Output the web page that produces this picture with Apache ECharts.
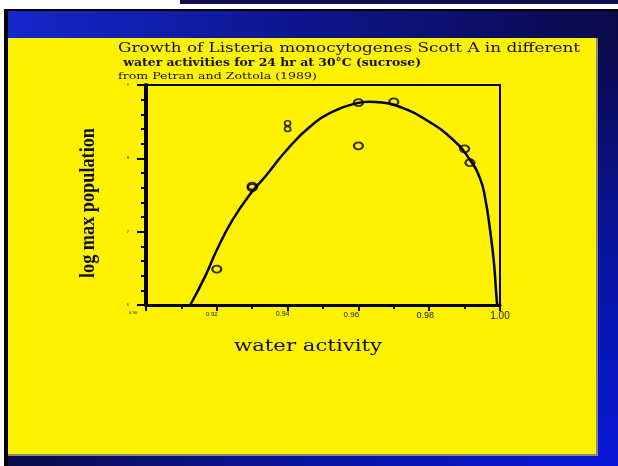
<!DOCTYPE html>
<html><head><meta charset="utf-8">
<script src="https://cdn.jsdelivr.net/npm/echarts@6/dist/echarts.min.js"></script>
<style>html,body{margin:0;padding:0;background:#fff}#c{width:618px;height:466px}</style>
</head><body><div id="c"></div>
<script>
// ---- data ----
const titleLine1 = 'Growth of Listeria monocytogenes Scott A in different';
const titleLine2 = ' water activities for 24 hr at 30°C (sucrose)';
const titleLine3 = 'from Petran and Zottola (1989)';
const xAxisTitle = 'water activity';
const yAxisTitle = 'log max population';
const xTickLabels = ['0.90', '0.92', '0.94', '0.96', '0.98', '1.00'];
const yTickLabels = ['6', '7', '8', '9'];

const pointsAw  = [0.92, 0.93, 0.93, 0.96, 0.96, 0.97, 0.99, 0.9915];
const pointsLog = [6.49, 7.60, 7.62, 8.76, 8.17, 8.77, 8.13, 7.94];
const smallAw   = [0.94, 0.94];
const smallLog  = [8.48, 8.40];

const curveAw  = [0.9125, 0.9167, 0.9200, 0.9242, 0.9294, 0.9340, 0.9397, 0.9463, 0.9529, 0.9595, 0.9630, 0.9666, 0.9718, 0.9793, 0.9868, 0.9915, 0.9944, 0.9958, 0.9972, 0.9983, 0.9991, 0.9993];
const curveLog = [6.00, 6.39, 6.75, 7.14, 7.51, 7.77, 8.11, 8.43, 8.64, 8.75, 8.77, 8.76, 8.70, 8.52, 8.25, 7.98, 7.72, 7.46, 7.02, 6.57, 6.05, 6.00];

// ---- helpers ----
const ctx = document.createElement('canvas').getContext('2d');
function measure(text, font) { ctx.font = font; return ctx.measureText(text).width; }
function fitText(text, font, x, y, width, extra) {
  const w = measure(text, font);
  return Object.assign({
    type: 'text', x: x, y: y, scaleX: width / w, z: 20,
    style: { text: text, font: font, fill: '#111', align: 'left', verticalAlign: 'middle' }
  }, extra || {});
}

const YELLOW = '#fff200';
const graphics = [
  { type: 'rect', z: -20, shape: { x: 180, y: 0, width: 438, height: 4 }, style: { fill: '#0c0c55' } },
  { type: 'rect', z: -20, shape: { x: 4, y: 9, width: 614, height: 457 }, style: { fill: '#000' } },
  { type: 'rect', z: -19, shape: { x: 8, y: 11, width: 610, height: 28 },
    style: { fill: new echarts.graphic.LinearGradient(0, 0, 1, 0, [{ offset: 0, color: '#1428cc' }, { offset: 0.45, color: '#0e1690' }, { offset: 1, color: '#0a0a4a' }]) } },
  { type: 'rect', z: -19, shape: { x: 596, y: 38, width: 22, height: 428 },
    style: { fill: new echarts.graphic.LinearGradient(0, 0, 0, 1, [{ offset: 0, color: '#0a0a4a' }, { offset: 0.5, color: '#0a14a0' }, { offset: 1, color: '#0818d8' }]) } },
  { type: 'rect', z: -19, shape: { x: 8, y: 454, width: 590, height: 12 },
    style: { fill: new echarts.graphic.LinearGradient(0, 0, 1, 0, [{ offset: 0, color: '#0c0c48' }, { offset: 0.5, color: '#0a14a0' }, { offset: 1, color: '#0818d8' }]) } },
  { type: 'rect', z: -18, shape: { x: 8, y: 38, width: 590, height: 418 }, style: { fill: '#8a8a70' } },
  { type: 'rect', z: -17, shape: { x: 8, y: 38, width: 588, height: 416 }, style: { fill: YELLOW } },
  fitText(titleLine1, '13px "DejaVu Serif"', 118, 49, 462),
  fitText(titleLine2, 'bold 11px "DejaVu Serif"', 119, 63, 302),
  fitText(titleLine3, '10px "DejaVu Serif"', 118, 76, 199),
  fitText(xAxisTitle, '17px "DejaVu Serif"', 234, 347, 148),
  Object.assign(fitText(yAxisTitle, 'bold 22px "Liberation Serif"', 88, 203, 150), {
    rotation: Math.PI / 2,
    style: { text: yAxisTitle, font: 'bold 22px "Liberation Serif"', fill: '#111', align: 'center', verticalAlign: 'middle' }
  })
];

const xRich = {};
const xSizes = [4, 6, 7, 8, 9, 10];
const xShift = [26, 10, 10, 14, 8, 0];
xSizes.forEach((s, i) => {
  xRich['s' + i] = { fontSize: s, fontFamily: 'Liberation Sans', color: '#222', padding: [0, xShift[i], 0, 0] };
});

const chart = echarts.init(document.getElementById('c'), null, { renderer: 'canvas' });
chart.setOption({
  backgroundColor: 'transparent',
  animation: false,
  graphic: graphics,
  grid: { left: 146, right: 118, top: 85, bottom: 161, show: true, borderColor: '#000', borderWidth: 2, backgroundColor: 'transparent' },
  xAxis: {
    type: 'value', min: 0.9, max: 1.0, interval: 0.02,
    axisLine: { show: true, onZero: false, lineStyle: { color: '#000', width: 3 } },
    axisTick: { show: true, inside: false, length: 6, lineStyle: { color: '#000', width: 2 } },
    minorTick: { show: true, splitNumber: 2, length: 4, lineStyle: { color: '#000', width: 2 } },
    splitLine: { show: false },
    axisLabel: { margin: 6, formatter: (v, i) => '{s' + i + '|' + xTickLabels[i] + '}', rich: xRich }
  },
  yAxis: {
    type: 'value', min: 6, max: 9, interval: 1,
    axisLine: { show: true, onZero: false, lineStyle: { color: '#000', width: 4 } },
    axisTick: { show: true, inside: false, length: 9, lineStyle: { color: '#000', width: 2 } },
    minorTick: { show: true, splitNumber: 5, length: 5, lineStyle: { color: '#000', width: 2 } },
    splitLine: { show: false },
    axisLabel: { margin: 17, fontSize: 4, color: '#222', formatter: (v, i) => yTickLabels[i] }
  },
  series: [
    {
      type: 'line', z: 3, smooth: 0.5, showSymbol: false,
      lineStyle: { color: '#000', width: 2.5 },
      data: curveAw.map((a, i) => [a, curveLog[i]])
    },
    {
      type: 'scatter', z: 4, symbol: 'circle', symbolSize: [9, 7],
      itemStyle: { color: 'transparent', borderColor: '#000', borderWidth: 2 },
      data: pointsAw.map((a, i) => [a, pointsLog[i]])
    },
    {
      type: 'scatter', z: 4, symbol: 'circle', symbolSize: [6, 5],
      itemStyle: { color: 'transparent', borderColor: '#000', borderWidth: 1.6 },
      data: smallAw.map((a, i) => [a, smallLog[i]])
    }
  ]
});
</script>
</body></html>
